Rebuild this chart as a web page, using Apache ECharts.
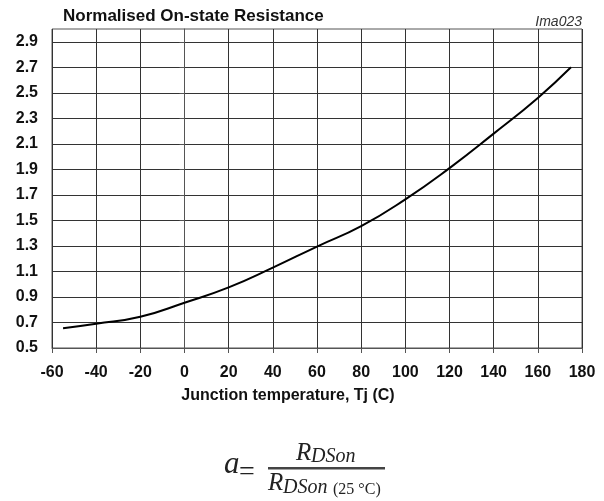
<!DOCTYPE html>
<html>
<head>
<meta charset="utf-8">
<script src="https://cdn.jsdelivr.net/npm/echarts@6/dist/echarts.min.js"></script>
<style>
  html, body { margin: 0; padding: 0; background: #fff; }
  #chart { width: 604px; height: 501px; }
</style>
</head>
<body>
<div id="chart"></div>
<script>
// junction temperature (C) and normalised RDSon
const tempC = [-55, -40, -20, 0, 20, 40, 60, 80, 100, 120, 140, 160, 175];
const rNorm = [0.655, 0.69, 0.745, 0.855, 0.975, 1.13, 1.295, 1.455, 1.665, 1.91, 2.18, 2.46, 2.7];
const yTickLabels = [0.5, 0.7, 0.9, 1.1, 1.3, 1.5, 1.7, 1.9, 2.1, 2.3, 2.5, 2.7, 2.9];

const sans = "'Liberation Sans', Arial, sans-serif";
const serif = "'Liberation Serif', 'Times New Roman', serif";
const ink = "#111";

const chart = echarts.init(document.getElementById("chart"));

const option = {
  animation: false,
  backgroundColor: "#fff",
  grid: {
    left: 52, right: 22, top: 29, bottom: 153,
    show: true, borderColor: "#555", borderWidth: 1
  },
  xAxis: {
    type: "value",
    min: -60, max: 180, interval: 20,
    axisLine: { show: true, lineStyle: { color: "#555", width: 1 } },
    axisTick: { show: true, length: 5, inside: false, lineStyle: { color: "#555" } },
    axisLabel: {
      margin: 17,
      color: ink, fontFamily: sans, fontWeight: "bold", fontSize: 16
    },
    splitLine: { show: true, lineStyle: { color: "#333", width: 1 } }
  },
  yAxis: {
    type: "value",
    min: 0.5, max: 3.0, interval: 0.1,
    axisLine: { show: true, lineStyle: { color: "#555", width: 1 } },
    axisTick: {
      show: true, length: 5, customValues: yTickLabels,
      lineStyle: { color: "#555" }
    },
    axisLabel: {
      margin: 14, customValues: yTickLabels,
      formatter: (v) => v.toFixed(1),
      color: ink, fontFamily: sans, fontWeight: "bold", fontSize: 16
    },
    splitLine: { show: true, lineStyle: { color: "#333", width: 1 } }
  },
  series: [
    {
      type: "line",
      data: tempC.map((t, i) => [t, rNorm[i]]),
      smooth: 0.5,
      showSymbol: false,
      lineStyle: { color: "#000", width: 2 }
    }
  ],
  graphic: [
    {
      type: "text",
      style: {
        text: "Normalised On-state Resistance",
        x: 63, y: 16.5, textVerticalAlign: "middle",
        font: "bold 17px " + sans, fill: ink
      }
    },
    {
      type: "text",
      style: {
        text: "Ima023",
        x: 582, y: 22, textAlign: "right", textVerticalAlign: "middle",
        font: "italic 14px " + sans, fill: "#333"
      }
    },
    {
      type: "text",
      style: {
        text: "Junction temperature, Tj (C)",
        x: 288, y: 396, textAlign: "center", textVerticalAlign: "middle",
        font: "bold 16px " + sans, fill: ink
      }
    },
    // formula a = RDSon / RDSon(25 °C)
    {
      type: "text",
      style: {
        text: "a", x: 224, y: 480, textVerticalAlign: "bottom",
        font: "italic 31px " + serif, fill: "#222"
      }
    },
    {
      type: "text",
      style: {
        text: "=", x: 247, y: 473, textAlign: "center", textVerticalAlign: "middle",
        font: "28px " + serif, fill: "#222"
      }
    },
    {
      type: "line",
      shape: { x1: 268, y1: 468.3, x2: 385, y2: 468.3 },
      style: { stroke: "#444", lineWidth: 2.5 }
    },
    {
      type: "text",
      style: {
        text: "R", x: 296, y: 466, textVerticalAlign: "bottom",
        font: "italic 25px " + serif, fill: "#222"
      }
    },
    {
      type: "text",
      style: {
        text: "DSon", x: 311, y: 467, textVerticalAlign: "bottom",
        font: "italic 20px " + serif, fill: "#222"
      }
    },
    {
      type: "text",
      style: {
        text: "R", x: 268, y: 496, textVerticalAlign: "bottom",
        font: "italic 25px " + serif, fill: "#222"
      }
    },
    {
      type: "text",
      style: {
        text: "DSon", x: 283, y: 497.5, textVerticalAlign: "bottom",
        font: "italic 20px " + serif, fill: "#222"
      }
    },
    {
      type: "text",
      style: {
        text: "(25 °C)", x: 333, y: 497.5, textVerticalAlign: "bottom",
        font: "16px " + serif, fill: "#222"
      }
    }
  ]
};

chart.setOption(option);
</script>
</body>
</html>
